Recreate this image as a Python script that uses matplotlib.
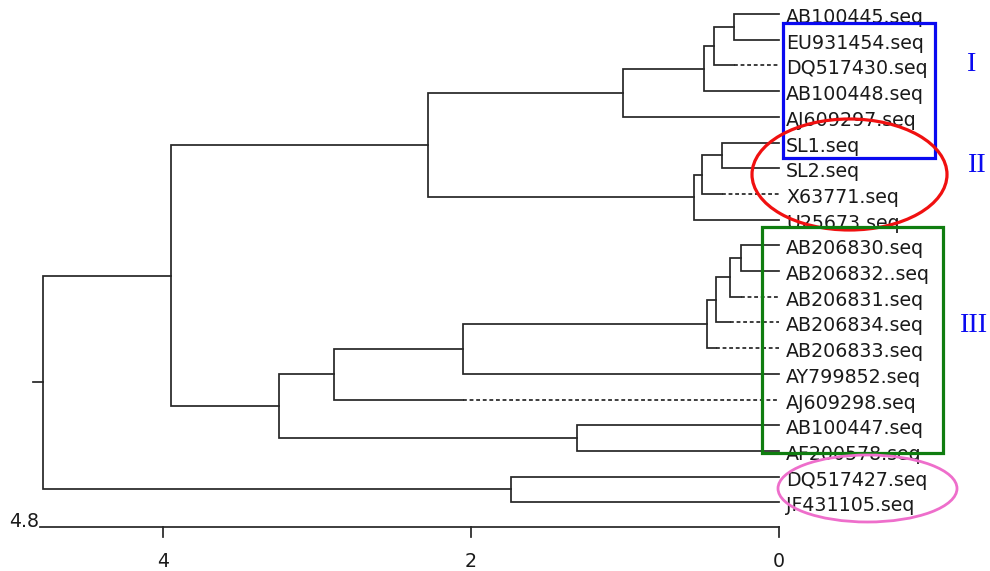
import matplotlib.pyplot as plt
from matplotlib.patches import Rectangle, Ellipse

# hojas del dendrograma, de arriba hacia abajo
hojas = [
    'AB100445.seq', 'EU931454.seq', 'DQ517430.seq', 'AB100448.seq', 'AJ609297.seq',
    'SL1.seq', 'SL2.seq', 'X63771.seq', 'U25673.seq',
    'AB206830.seq', 'AB206832..seq', 'AB206831.seq', 'AB206834.seq', 'AB206833.seq',
    'AY799852.seq', 'AJ609298.seq', 'AB100447.seq', 'AF200578.seq',
    'DQ517427.seq', 'JF431105.seq',
]

# hojas cuya rama termina en linea punteada
hojas_punteadas = ['DQ517430.seq', 'X63771.seq', 'AB206831.seq', 'AB206834.seq',
                   'AB206833.seq', 'AJ609298.seq']

# uniones (hijo a, hijo b, altura); los nodos internos se llaman n0, n1, ...
uniones = [
    ('AB100445.seq', 'EU931454.seq', 0.29),   # n0
    ('n0', 'DQ517430.seq', 0.42),             # n1
    ('n1', 'AB100448.seq', 0.49),             # n2
    ('n2', 'AJ609297.seq', 1.01),             # n3
    ('SL1.seq', 'SL2.seq', 0.37),             # n4
    ('n4', 'X63771.seq', 0.50),               # n5
    ('n5', 'U25673.seq', 0.55),               # n6
    ('n3', 'n6', 2.28),                       # n7
    ('AB206830.seq', 'AB206832..seq', 0.25),  # n8
    ('n8', 'AB206831.seq', 0.32),             # n9
    ('n9', 'AB206834.seq', 0.41),             # n10
    ('n10', 'AB206833.seq', 0.47),            # n11
    ('n11', 'AY799852.seq', 2.05),            # n12
    ('n12', 'AJ609298.seq', 2.89),            # n13
    ('AB100447.seq', 'AF200578.seq', 1.31),   # n14
    ('n13', 'n14', 3.25),                     # n15
    ('n7', 'n15', 3.95),                      # n16
    ('DQ517427.seq', 'JF431105.seq', 1.74),   # n17
    ('n16', 'n17', 4.78),                     # n18
]

escala_max = 4.8
marcas_escala = [4, 2, 0]
etiqueta_escala = '4.8'
grupos = ['I', 'II', 'III']

# --- conversion pixel -> datos (solo para ubicar elementos) ---
X0_PX, PX_UNIDAD = 779, 154.0
Y0_PX, PX_HOJA = 14, 25.7
ANCHO, ALTO = 990, 571


def fx(px):
    return (X0_PX - px) / PX_UNIDAD


def fy(py):
    return (py - Y0_PX) / PX_HOJA


COLOR_LINEA = '#262626'
LW = 1.25

fig = plt.figure(figsize=(ANCHO / 100, ALTO / 100), dpi=100)
ax = fig.add_axes([0, 0, 1, 1])
ax.set_xlim(fx(0), fx(ANCHO))
ax.set_ylim(fy(ALTO), fy(0))
ax.axis('off')

altura = {h: 0.0 for h in hojas}
pos_y = {h: i for i, h in enumerate(hojas)}

for k, (a, b, h) in enumerate(uniones):
    fin_a = altura[b] if a in hojas_punteadas else altura[a]
    fin_b = altura[a] if b in hojas_punteadas else altura[b]
    ax.plot([fin_a, h, h, fin_b], [pos_y[a], pos_y[a], pos_y[b], pos_y[b]],
            color=COLOR_LINEA, lw=LW, solid_joinstyle='miter')
    for hijo, fin in ((a, fin_a), (b, fin_b)):
        if hijo in hojas_punteadas:
            ax.plot([fin, 0], [pos_y[hijo], pos_y[hijo]], color=COLOR_LINEA,
                    lw=LW, linestyle=(0, (2.2, 1.6)))
    nombre = f'n{k}'
    altura[nombre] = h
    pos_y[nombre] = (pos_y[a] + pos_y[b]) / 2

# pequeña marca en la raiz
raiz = f'n{len(uniones) - 1}'
ax.plot([altura[raiz], altura[raiz] + 10 / PX_UNIDAD], [pos_y[raiz]] * 2,
        color=COLOR_LINEA, lw=LW)

# etiquetas de las hojas
for nombre in hojas:
    ax.text(fx(786), pos_y[nombre] + 9 / PX_HOJA, nombre, fontsize=13.7,
            ha='left', va='baseline', color='#1a1a1a', zorder=2)

# barra de escala
y_esc = fy(527)
ax.plot([escala_max, 0], [y_esc, y_esc], color=COLOR_LINEA, lw=LW)
for v in marcas_escala:
    ax.plot([v, v], [y_esc, y_esc + 10 / PX_HOJA], color=COLOR_LINEA, lw=LW)
    ax.text(v, fy(567), str(v), fontsize=13.7, ha='center', va='baseline',
            color='#1a1a1a')
ax.text(escala_max + 1 / PX_UNIDAD, y_esc, etiqueta_escala, fontsize=13.7,
        ha='right', va='baseline', color='#1a1a1a')

# recuadros y elipses de los grupos
ax.add_patch(Rectangle((fx(783), fy(23)), fx(935) - fx(783), fy(158) - fy(23),
                       fill=False, edgecolor='#0a0af0', lw=2.3, zorder=5))
ax.add_patch(Ellipse((fx(849.5), fy(174.5)), 195 / PX_UNIDAD, 111 / PX_HOJA,
                     fill=False, edgecolor='#f01010', lw=2.3, zorder=5))
ax.add_patch(Rectangle((fx(762), fy(227)), fx(943) - fx(762), fy(453) - fy(227),
                       fill=False, edgecolor='#0f7d0f', lw=2.3, zorder=5))
ax.add_patch(Ellipse((fx(867.5), fy(488.5)), 179 / PX_UNIDAD, 67 / PX_HOJA,
                     fill=False, edgecolor='#ee6ecb', lw=2.0, zorder=5))

pos_grupos = [(971, 71), (976, 172), (973.5, 332)]
for g, (px, py) in zip(grupos, pos_grupos):
    ax.text(fx(px), fy(py), g, fontsize=20.5, family='Liberation Serif',
            color='#0a0af0', ha='center', va='baseline')

fig.savefig('out.png', dpi=100)
plt.close(fig)
